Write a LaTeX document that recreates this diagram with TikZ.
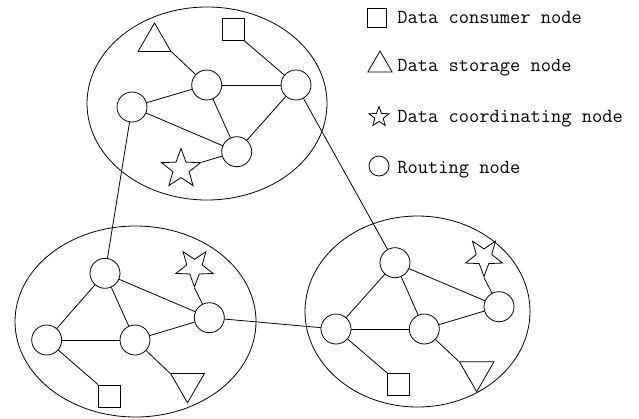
\documentclass[tikz,border=0pt]{standalone}
\usetikzlibrary{shapes.geometric}
\tikzset{
  rout/.style={draw,circle,minimum size=30pt,inner sep=0pt},
  cons/.style={draw,rectangle,minimum size=22pt,inner sep=0pt},
  stor/.style={draw,regular polygon,regular polygon sides=3,minimum size=38pt,inner sep=0pt},
  coord/.style={draw,star,star points=5,star point ratio=2.4,minimum size=40pt,inner sep=0pt},
  lbl/.style={anchor=base west,inner sep=0pt,font=\ttfamily\fontsize{19.9}{24}\selectfont}
}
\begin{document}
\begin{tikzpicture}[x=1pt,y=-1pt,line width=0.8pt]
  \useasboundingbox (0,0) rectangle (639,418);
  \draw (207,103.5) ellipse [x radius=120pt,y radius=96.5pt];
  \draw (135.5,321.5) ellipse [x radius=120.5pt,y radius=95.5pt];
  \draw (417.5,311.5) ellipse [x radius=112.5pt,y radius=95.5pt];
  \draw
    (132,107) node[rout] (t1){}
    (206.7,85) node[rout] (t2){}
    (296,85) node[rout] (t3){}
    (236.7,151.7) node[rout] (t4){}
    (154.5,42) node[stor] (ttri){}
    (233,29.5) node[cons] (tsq){}
    (181,169) node[coord,minimum size=41pt] (tstar){};
  \draw
    (105,273.3) node[rout] (l1){}
    (46.7,340) node[rout] (l2){}
    (135,340) node[rout] (l3){}
    (209.3,317.7) node[rout] (l4){}
    (187.5,383.3) node[stor,minimum size=39pt,shape border rotate=180] (ltri){}
    (109.5,396) node[cons] (lsq){}
    (194.5,267.4) node[coord,minimum size=39pt,shape border rotate=180] (lstar){};
  \draw
    (395,262.7) node[rout] (r1){}
    (336,329) node[rout] (r2){}
    (424.3,329) node[rout] (r3){}
    (499,306.7) node[rout] (r4){}
    (476.7,371.7) node[stor,minimum size=40pt,shape border rotate=180] (rtri){}
    (398.7,384.5) node[cons] (rsq){}
    (484,257) node[coord,minimum size=39pt,shape border rotate=180] (rstar){};
  \begin{scope}[-]
    \draw (t1) to (t2);
    \draw (t1) to (t4);
    \draw (t2) to (t3);
    \draw (t2) to (t4);
    \draw (t3) to (t4);
    \draw (ttri.corner 3) to (t2);
    \draw (tsq.south east) to (t3);
    \draw (tstar.outer point 5) to (t4);
    \draw (l1) to (l2);
    \draw (l1) to (l3);
    \draw (l1) to (l4);
    \draw (l2) to (l3);
    \draw (l3) to (l4);
    \draw (l2) to (lsq.north west);
    \draw (l3) to (ltri.corner 3);
    \draw (lstar.outer point 1) to (l4);
    \draw (r1) to (r2);
    \draw (r1) to (r3);
    \draw (r1) to (r4);
    \draw (r2) to (r3);
    \draw (r3) to (r4);
    \draw (r2) to (rsq.north west);
    \draw (r3) to (rtri.corner 3);
    \draw (rstar.outer point 1) to (r4);
    \draw (t1) to (l1);
    \draw (t3) to (r1);
    \draw (l4) to (r2);
  \end{scope}
  \draw
    (377,17.5) node[cons,minimum size=19pt] (ksq){}
    (380,65) node[stor,minimum size=28pt] (ktri){}
    (379,117) node[coord,minimum size=21pt] (kstar){}
    (379,166) node[rout,minimum size=20pt] (kcirc){};
  \node[lbl] (ksqt) at (397,23) {Data consumer node};
  \node[lbl] (ktrit) at (397,71.7) {Data storage node};
  \node[lbl] (kstart) at (397,122.7) {Data coordinating node};
  \node[lbl] (kcirct) at (397,173.3) {Routing node};
\end{tikzpicture}
\end{document}
